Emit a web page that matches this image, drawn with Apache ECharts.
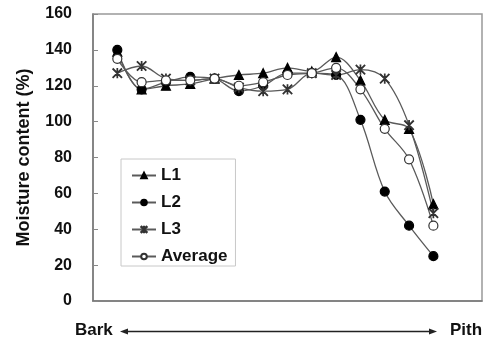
<!DOCTYPE html>
<html>
<head>
<meta charset="utf-8">
<script src="https://cdn.jsdelivr.net/npm/echarts@6/dist/echarts.min.js"></script>
<style>
html,body{margin:0;padding:0;background:#fff;}
#c{width:491px;height:341px;}
</style>
</head>
<body>
<div id="c"></div>
<script>
// positions from bark (1) to pith (14)
var positions = [1,2,3,4,5,6,7,8,9,10,11,12,13,14];
var L1 = [139, 118, 120, 121, 124, 126, 127, 130, 128, 136, 123, 101, 96, 54];
var L2 = [140, 118, 122, 125, 124, 117, 120, 127, 127, 126, 101, 61, 42, 25];
var L3 = [127, 131, 124, 123, 124, 119, 117, 118, 127, 126, 129, 124, 98, 49];
var Avg = [135, 122, 123, 123, 124, 120, 122, 126, 127, 130, 118, 96, 79, 42];
var yTicks = [0, 20, 40, 60, 80, 100, 120, 140, 160];
var seriesNames = ['L1', 'L2', 'L3', 'Average'];

var FONT = '"Liberation Sans", Arial, sans-serif';
var starPath = 'path://M47 0 L53 0 L53 100 L47 100 Z M0 5 L5 0 L100 95 L95 100 Z M95 0 L100 5 L5 100 L0 95 Z';

function pairs(arr){ return arr.map(function(v,i){ return [positions[i], v]; }); }

function mk(name, data, symbol, size, fill, border){
  return {
    name: name, type: 'line', data: pairs(data), smooth: 0.35,
    symbol: symbol, symbolSize: size, showAllSymbol: true,
    lineStyle: {color: '#5a5a5a', width: 1.3},
    itemStyle: {color: fill, borderColor: border, borderWidth: 1.2, opacity: 1},
    emphasis: {disabled: true}
  };
}

var chart = echarts.init(document.getElementById('c'), null, {renderer: 'canvas'});
chart.setOption({
  animation: false,
  grid: {left: 93, top: 14, right: 9, bottom: 40, show: true, borderColor: '#999', borderWidth: 1.5, containLabel: false},
  xAxis: {
    type: 'value', min: 0, max: 16, interval: 1,
    axisLine: {show: true, lineStyle: {color: '#777', width: 1.5}},
    axisTick: {show: false}, axisLabel: {show: false}, splitLine: {show: false}
  },
  yAxis: {
    type: 'value', min: yTicks[0], max: yTicks[yTicks.length-1], interval: 20,
    name: 'Moisture content (%)', nameLocation: 'middle', nameRotate: 90, nameGap: 60,
    nameTextStyle: {fontFamily: FONT, fontWeight: 'bold', fontSize: 18, color: '#111'},
    axisLine: {show: true, lineStyle: {color: '#777', width: 1.5}},
    axisTick: {show: true, inside: true, length: 5, lineStyle: {color: '#888'}},
    axisLabel: {fontFamily: FONT, fontWeight: 'bold', fontSize: 16, color: '#111', margin: 21},
    splitLine: {show: false}
  },
  legend: {
    orient: 'vertical', left: 121, top: 159,
    data: seriesNames,
    itemWidth: 24, itemHeight: 7, itemGap: 10,
    padding: [8, 8, 1, 10],
    borderColor: '#c8c8c8', borderWidth: 1,
    textStyle: {fontFamily: FONT, fontWeight: 'bold', fontSize: 17, color: '#111', lineHeight: 17},
    selectedMode: false
  },
  series: [
    mk(seriesNames[0], L1, 'triangle', 9, '#000', '#000'),
    mk(seriesNames[1], L2, 'circle', 9, '#000', '#000'),
    mk(seriesNames[2], L3, starPath, 9, '#333', '#333'),
    mk(seriesNames[3], Avg, 'circle', 9, '#fff', '#333')
  ],
  graphic: [
    {type: 'text', left: 75, top: 322, style: {text: 'Bark', font: 'bold 17px ' + FONT, fill: '#111'}},
    {type: 'text', left: 450, top: 322, style: {text: 'Pith', font: 'bold 17px ' + FONT, fill: '#111'}},
    {type: 'line', shape: {x1: 124, y1: 331.5, x2: 433, y2: 331.5}, style: {stroke: '#222', lineWidth: 1.5}},
    {type: 'polygon', shape: {points: [[120, 331.5], [128, 328.5], [128, 334.5]]}, style: {fill: '#222'}},
    {type: 'polygon', shape: {points: [[437, 331.5], [429, 328.5], [429, 334.5]]}, style: {fill: '#222'}}
  ]
});
</script>
</body>
</html>
